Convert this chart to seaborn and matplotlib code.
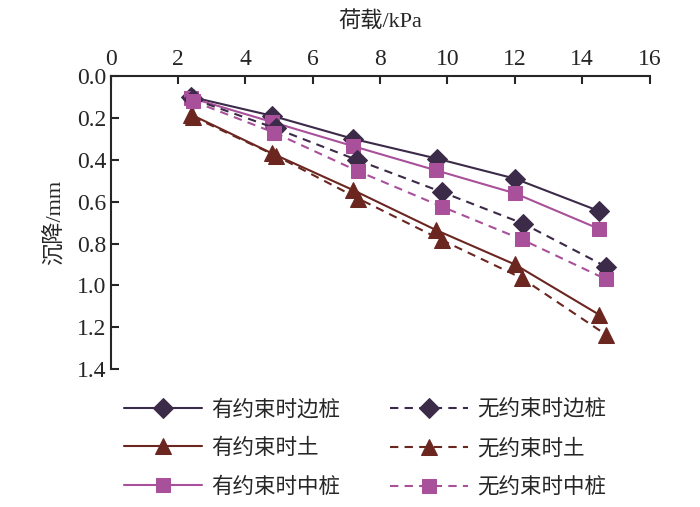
import numpy as np
import pandas as pd
import matplotlib
matplotlib.use("Agg")
import matplotlib.pyplot as plt
import seaborn as sns

# ── Data ────────────────────────────────────────────────
edge_fix_x = [2.4, 4.8, 7.2, 9.7, 12.0, 14.5]
edge_fix_y = [0.10, 0.19, 0.30, 0.395, 0.49, 0.645]
edge_free_x = [2.45, 4.9, 7.3, 9.85, 12.25, 14.7]
edge_free_y = [0.11, 0.25, 0.40, 0.555, 0.705, 0.91]
soil_fix_x = [2.4, 4.8, 7.2, 9.65, 12.0, 14.5]
soil_fix_y = [0.185, 0.37, 0.545, 0.735, 0.90, 1.14]
soil_free_x = [2.45, 4.9, 7.35, 9.85, 12.2, 14.7]
soil_free_y = [0.195, 0.38, 0.585, 0.785, 0.965, 1.235]
mid_fix_x = [2.4, 4.8, 7.2, 9.65, 12.0, 14.5]
mid_fix_y = [0.105, 0.22, 0.335, 0.45, 0.56, 0.73]
mid_free_x = [2.45, 4.85, 7.35, 9.85, 12.2, 14.7]
mid_free_y = [0.12, 0.27, 0.455, 0.625, 0.78, 0.97]

# legend fills column by column: left = with constraint, right = without
labels = ["有约束时边桩", "有约束时土", "有约束时中桩", "无约束时边桩", "无约束时土", "无约束时中桩"]
xs = [edge_fix_x, soil_fix_x, mid_fix_x, edge_free_x, soil_free_x, mid_free_x]
ys = [edge_fix_y, soil_fix_y, mid_fix_y, edge_free_y, soil_free_y, mid_free_y]

C_EDGE = "#3b2a48"
C_SOIL = "#6b2620"
C_MID = "#a8509a"
colors = [C_EDGE, C_SOIL, C_MID, C_EDGE, C_SOIL, C_MID]
markers = ["D", "^", "s", "D", "^", "s"]
msizes = [10, 12, 10, 10, 12, 10]
dashed = [False, False, False, True, True, True]

# ── Plot ────────────────────────────────────────────────
sns.set_style("ticks")
plt.rcParams["font.family"] = ["Liberation Serif", "Noto Sans CJK SC"]

fig = plt.figure(figsize=(7.0, 5.07), dpi=100)
ax = fig.add_axes([0.158, 0.272, 0.770, 0.578])

for lab, x, y, c, m, ms, d in zip(labels, xs, ys, colors, markers, msizes, dashed):
    df = pd.DataFrame({"x": x, "y": y})
    sns.lineplot(data=df, x="x", y="y", ax=ax, color=c, marker=m, markersize=ms,
                 markeredgecolor=c, linewidth=1.5, linestyle=(0, (4, 3)) if d else "-",
                 label=lab, estimator=None, sort=False)

ax.set_xlim(0, 16)
ax.set_ylim(1.4, 0.0)
ax.set_xticks(np.arange(0, 17, 2))
ax.set_yticks(np.arange(0, 1.41, 0.2))
ax.set_yticklabels([f"{v:.1f}" for v in np.arange(0, 1.41, 0.2)])
ax.xaxis.tick_top()
ax.xaxis.set_label_position("top")
ax.tick_params(axis="both", direction="in", length=6, width=1.5, labelsize=17, pad=3)
ax.tick_params(axis="x", pad=4)
for side in ["right", "bottom"]:
    ax.spines[side].set_visible(False)
for side in ["left", "top"]:
    ax.spines[side].set_linewidth(1.5)

ax.set_xlabel("荷载/kPa", fontsize=16, labelpad=16)
ax.set_ylabel("沉降/mm", fontsize=16, labelpad=8)

handles, labs = ax.get_legend_handles_labels()
ax.get_legend().remove()
fig.legend(handles, labs, ncol=2, loc="upper left", bbox_to_anchor=(0.15, 0.25),
           frameon=False, fontsize=15.5, handlelength=3.6, handletextpad=0.45,
           columnspacing=2.3, labelspacing=0.85)

fig.savefig("out.png", dpi=100)
